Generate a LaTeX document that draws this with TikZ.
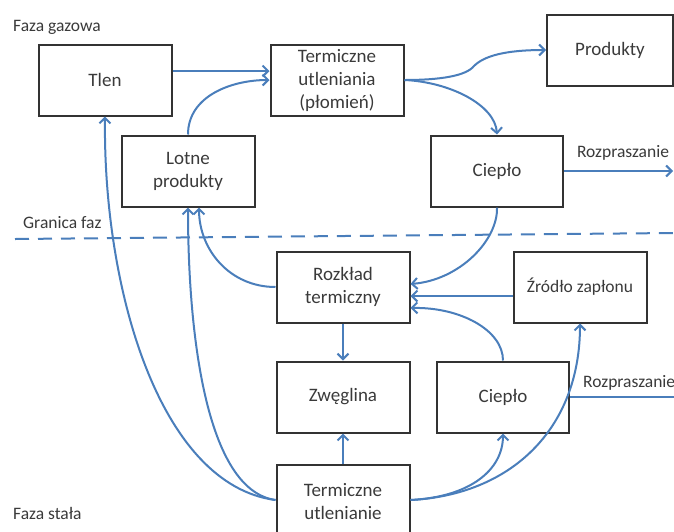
\documentclass[tikz,border=0pt]{standalone}
\usepackage{fontspec}
\setmainfont{Carlito}
\usetikzlibrary{arrows.meta}
\definecolor{lineblue}{HTML}{4A7EBB}
\definecolor{boxgray}{HTML}{333333}
\definecolor{txtgray}{HTML}{3A3A3A}
\begin{document}
\begin{tikzpicture}[x=1pt,y=-1pt,
  box/.style={draw=boxgray,line width=2pt,minimum width=133pt,minimum height=71pt,
    inner sep=0pt,align=center,text=txtgray,font=\fontsize{19}{23}\selectfont},
  lbl/.style={text=txtgray,font=\fontsize{17.5}{21}\selectfont,inner sep=0pt},
  flow/.style={draw=lineblue,line width=2pt,-{Straight Barb[length=5.5pt,width=11pt]}},
  plain/.style={draw=lineblue,line width=2pt},
  ]
\useasboundingbox (0,0) rectangle (674,531);

% boxes
\node[box] (tlen) at (105,80) {Tlen};
\node[box] (tu) at (337,80) {Termiczne\\utleniania\\(płomień)};
\node[box,minimum width=126pt] (prod) at (610,50) {Produkty};
\node[box] (lotne) at (188,171) {Lotne\\produkty};
\node[box,minimum width=132pt] (cieplo1) at (497,171) {Ciepło};
\node[box] (rozklad) at (343,287) {Rozkład\\termiczny};
\node[box,font=\fontsize{17.5}{21}\selectfont] (zrodlo) at (580,287) {Źródło zapłonu};
\node[box] (zweglina) at (343,397) {Zwęglina};
\node[box,minimum width=132pt] (cieplo2) at (503,397) {Ciepło};
\node[box,minimum height=74pt] (tub) at (343,502) {Termiczne\\utlenianie};

% labels
\node[lbl,anchor=west] (fg) at (13,27) {Faza gazowa};
\node[lbl,anchor=west] (gf) at (23,223) {Granica faz};
\node[lbl,anchor=west] (fs) at (13,513) {Faza stała};
\node[lbl] (r1) at (623,153) {Rozpraszanie};
\node[lbl,anchor=west] (r2) at (583,383) {Rozpraszanie};

% phase boundary
\coordinate (gl) at (15,239);
\coordinate (gr) at (674,233);
\draw[lineblue,line width=2pt,dash pattern=on 14pt off 9pt] (gl) -- (gr);

% free ends
\coordinate (out1) at (673,171);
\coordinate (out2) at (676,397);
\coordinate (bump) at (474,66);

% connectors
\draw[flow] ([yshift=9pt]tlen.east) -- ([yshift=9pt]tu.west);
\draw[flow] (lotne.north) to[out=90,in=180] (tu.west);
\draw[flow] (tu.east) .. controls (440,80) and (466,76) .. (bump) .. controls (484,56) and (505,50) .. (prod.west);
\draw[flow] (tu.east) .. controls (450,82) and (495,105) .. (cieplo1.north);
\draw[flow] (cieplo1.east) -- (out1);
\draw[plain] (cieplo2.east) -- (out2);
\draw[flow] (cieplo1.south) .. controls (498,240) and (460,280) .. ([yshift=3pt]rozklad.east);
\draw[flow] ([yshift=-9pt]zrodlo.west) -- ([yshift=-9pt]rozklad.east);
\draw[flow] (cieplo2.north) .. controls (503,330) and (460,307) .. ([yshift=-21pt]rozklad.east);
\draw[flow] (rozklad.south) -- (zweglina.north);
\draw[flow] (tub.north) -- (zweglina.south);
\draw[flow] ([yshift=2pt]tub.east) .. controls (470,497) and (503,470) .. (cieplo2.south);
\draw[flow] ([yshift=2pt]tub.east) .. controls (510,495) and (580,430) .. (zrodlo.south);
\draw[flow] (rozklad.west) .. controls (230,287) and (199,250) .. ([xshift=11pt]lotne.south);
\draw[flow] ([yshift=2pt]tub.west) .. controls (205,490) and (188,330) .. (lotne.south);
\draw[flow] ([yshift=2pt]tub.west) .. controls (160,485) and (103,290) .. (tlen.south);
\end{tikzpicture}
\end{document}
